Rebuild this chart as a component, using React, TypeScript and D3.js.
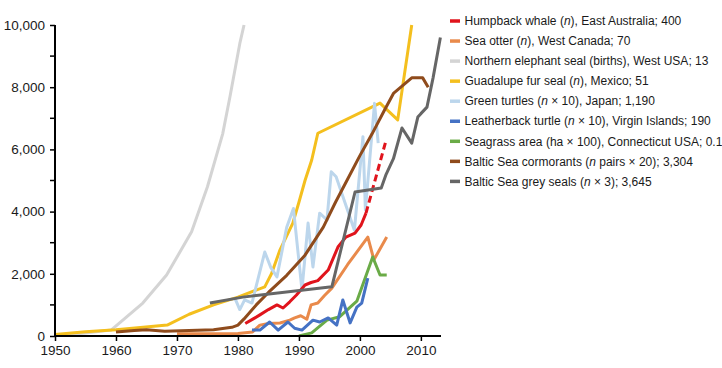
import React, {useRef, useEffect} from 'react';
import * as d3 from 'd3';

// [year, value] pairs
const humpback: [number, number][] = [[1981.2,400],[1982.5,550],[1983.6,680],[1985,850],[1986.4,1000],[1987.4,900],[1988.5,1100],[1989.6,1320],[1991,1640],[1992,1720],[1993.1,1780],[1994.8,2120],[1996.4,2860],[1997.7,3180],[1999.2,3310],[2000.2,3570],[2001,3950]];
const humpbackEnd: [number, number][] = [[2001,3950],[2004.3,6300]];
const seaOtter: [number, number][] = [[1970,70],[1975,70],[1980,80],[1982.4,130],[1983.6,350],[1985,400],[1986.9,420],[1988.5,510],[1989.3,580],[1990.3,650],[1991.3,540],[1992,1000],[1993.1,1060],[1994.2,1300],[1995.4,1540],[1998,2300],[2001.3,3180],[2002.3,2450],[2004.4,3180]];
const elephantSeal: [number, number][] = [[1950,13],[1955,100],[1959.2,190],[1964.4,1060],[1968.3,1960],[1972.4,3350],[1975,4800],[1977.5,6500],[1978.7,7700],[1980.3,9400],[1981,10000]];
const furSeal: [number, number][] = [[1950,50],[1955,140],[1960,200],[1964,270],[1968.4,350],[1972,700],[1976,1000],[1980,1250],[1984.4,1580],[1985.5,2000],[1986.9,2770],[1989,3630],[1990,4300],[1991,5000],[1992.1,5660],[1993.1,6520],[2003.3,7490],[2006.2,6950],[2008.5,10000]];
const greenTurtles: [number, number][] = [[1979.5,1220],[1980.3,850],[1981.1,1160],[1982.3,1060],[1984.4,2700],[1985.4,2200],[1986.4,1900],[1988,3500],[1989.1,4100],[1990.5,1480],[1991.5,3630],[1992.3,2220],[1993.4,3950],[1994.6,3730],[1995.3,5280],[1996.1,5120],[1999.1,3400],[2000.5,6410],[2000.9,4050],[2002.4,7480],[2003,6200]];
const leatherback: [number, number][] = [[1982.3,190],[1983.6,190],[1985.2,450],[1986.6,190],[1988.2,450],[1989.3,250],[1990.5,190],[1992.3,510],[1993.4,450],[1994.8,580],[1996.2,350],[1997.2,1160],[1998.4,420],[1999.5,930],[2000.3,1060],[2001.3,1860]];
const seagrass: [number, number][] = [[1990,0],[1992.1,100],[1994.6,510],[1996.7,620],[1999.5,1120],[2002.1,2540],[2003.3,1960],[2004.4,1960]];
const cormorants: [number, number][] = [[1960,130],[1963,180],[1965,200],[1968,150],[1972,180],[1976,200],[1979,280],[1980,350],[1981,550],[1983,1000],[1985,1400],[1988,1950],[1991,2600],[1994,3500],[1996,4300],[1998,5050],[2000,5800],[2002,6500],[2004,7250],[2005.5,7800],[2008.5,8300],[2010.3,8300],[2011.2,8000]];
const greySeals: [number, number][] = [[1975.4,1060],[1980.8,1250],[1995.4,1580],[1999.2,4630],[2003.5,4760],[2004.3,5200],[2005.5,5700],[2006.9,6690],[2008.5,6200],[2009.5,7040],[2010,7150],[2011,7360],[2012,8300],[2013.2,9600]];

const xTicks = [1950, 1960, 1970, 1980, 1990, 2000, 2010];
const yTicks = [0, 2000, 4000, 6000, 8000, 10000];
const yMinor = [1000, 3000, 5000, 7000, 9000];

// legend text pieces; the second piece (if any) is the italic n
const series = [
  {name: 'humpback', data: humpback, color: '#e0141c', label: ['Humpback whale (', 'n', '), East Australia; 400']},
  {name: 'otter', data: seaOtter, color: '#e98a4b', label: ['Sea otter (', 'n', '), West Canada; 70']},
  {name: 'elephant', data: elephantSeal, color: '#d4d4d4', label: ['Northern elephant seal (births), West USA; 13']},
  {name: 'fur', data: furSeal, color: '#f4bf1e', label: ['Guadalupe fur seal (', 'n', '), Mexico; 51']},
  {name: 'turtles', data: greenTurtles, color: '#bcd6ec', label: ['Green turtles (', 'n', ' \u00d7 10), Japan; 1,190']},
  {name: 'leatherback', data: leatherback, color: '#4572c4', label: ['Leatherback turtle (', 'n', ' \u00d7 10), Virgin Islands; 190']},
  {name: 'seagrass', data: seagrass, color: '#6aab47', label: ['Seagrass area (ha \u00d7 100), Connecticut USA; 0.1']},
  {name: 'cormorants', data: cormorants, color: '#8f4b1c', label: ['Baltic Sea cormorants (', 'n', ' pairs \u00d7 20); 3,304']},
  {name: 'greyseals', data: greySeals, color: '#666666', label: ['Baltic Sea grey seals (', 'n', ' \u00d7 3); 3,645']},
];

// draw order (later = on top)
const drawOrder = ['elephant', 'fur', 'turtles', 'otter', 'seagrass', 'leatherback', 'humpback', 'cormorants', 'greyseals'];

const App = () => {
  const svgRef = useRef<SVGSVGElement>(null);

  useEffect(() => {
    const svg = d3.select(svgRef.current);
    svg.selectAll('*').remove();

    const x = d3.scaleLinear().domain([1950, 2013.3]).range([55, 441]);
    const y = d3.scaleLinear().domain([0, 10000]).range([336, 25]);

    const font = '"Liberation Sans", Arial, Helvetica, sans-serif';

    const myLine = d3.line<[number, number]>()
      .x(d => x(d[0]))
      .y(d => y(d[1]));

    const lines = svg.append('g');
    drawOrder.forEach(key => {
      const s = series.find(v => v.name === key)!;
      lines.append('path')
        .attr('d', myLine(s.data))
        .attr('fill', 'none')
        .attr('stroke', s.color)
        .attr('stroke-width', 3)
        .attr('stroke-linejoin', 'round');
      if (key === 'humpback') {
        // dashed tail of the whale series
        lines.append('path')
          .attr('d', myLine(humpbackEnd))
          .attr('fill', 'none')
          .attr('stroke', s.color)
          .attr('stroke-width', 3)
          .attr('stroke-dasharray', '7,4');
      }
    });

    // y axis
    const yAxis = d3.axisLeft(y).tickValues(yTicks).tickSize(5).tickPadding(5)
      .tickFormat(d => d3.format(',')(d as number));
    const gy = svg.append('g').attr('transform', 'translate(55,0)').call(yAxis);
    gy.append('g').selectAll('line').data(yMinor).join('line')
      .attr('x1', -5).attr('x2', 0)
      .attr('y1', d => y(d)).attr('y2', d => y(d))
      .attr('stroke', '#000').attr('stroke-width', 1.5);

    // x axis
    const xAxis = d3.axisBottom(x).tickValues(xTicks).tickSize(5).tickPadding(4)
      .tickFormat(d => String(d));
    const gx = svg.append('g').attr('transform', 'translate(0,336)').call(xAxis);

    [gx, gy].forEach(g => {
      g.select('.domain').remove();
      g.selectAll('.tick line').attr('stroke', '#000').attr('stroke-width', 1.5);
      g.selectAll('.tick text').attr('fill', '#1a1a1a').style('font-size', '13.5px').style('font-family', font);
    });
    svg.append('line').attr('x1', 55).attr('x2', 55).attr('y1', y(10000)).attr('y2', 336)
      .attr('stroke', '#000').attr('stroke-width', 2);
    svg.append('line').attr('x1', 55).attr('x2', x(2013.3)).attr('y1', 336).attr('y2', 336)
      .attr('stroke', '#000').attr('stroke-width', 2);

    // legend
    const legend = svg.append('g').attr('transform', 'translate(450,21)');
    series.forEach((s, i) => {
      const row = legend.append('g').attr('transform', `translate(0,${i * 20.05})`);
      row.append('line').attr('x1', 0).attr('x2', 10).attr('y1', 0).attr('y2', 0)
        .attr('stroke', s.color).attr('stroke-width', 3.5);
      const t = row.append('text').attr('x', 14.5).attr('y', 0).attr('dy', '0.35em')
        .style('font-family', font).style('font-size', '12px').attr('fill', '#1a1a1a');
      s.label.forEach((part, j) => {
        t.append('tspan').text(part).style('font-style', j === 1 ? 'italic' : 'normal');
      });
    });
  }, []);

  return (
    <svg ref={svgRef} width={722} height={368}
      style={{position: 'absolute', left: 0, top: 0, background: '#fff'}} />
  );
};

export default App;
